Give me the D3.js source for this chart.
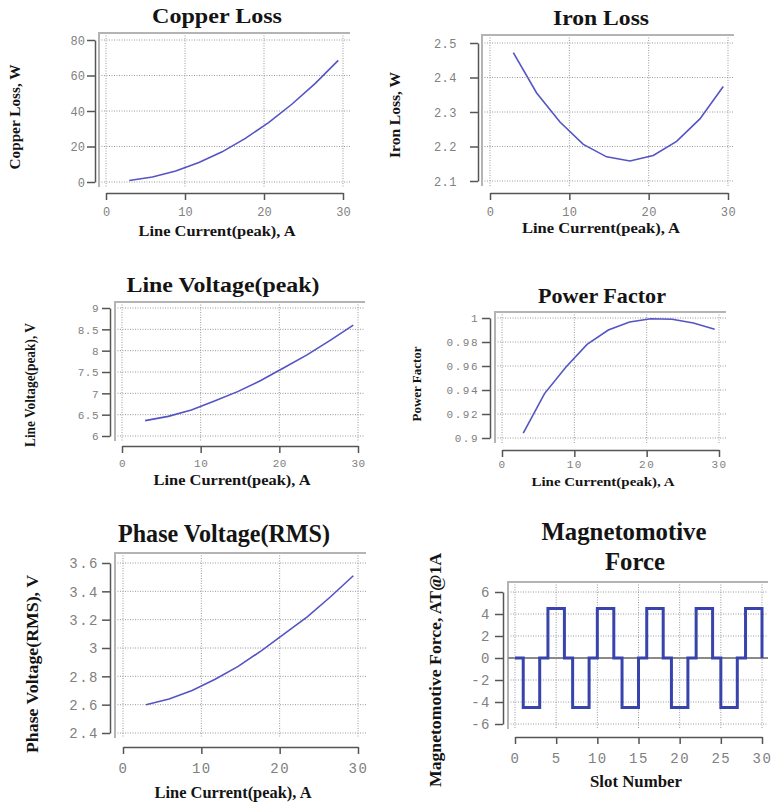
<!DOCTYPE html>
<html>
<head>
<meta charset="utf-8">
<script src="https://cdn.jsdelivr.net/npm/d3@7/dist/d3.min.js"></script>
<style>
  body { margin: 0; background: #fff; }
  svg { display: block; }
  .tick text { font-family: "Liberation Mono", "DejaVu Sans Mono", monospace; fill: #808080; }
  .domain, .tick line { stroke: #555; }
  .ttl { font-family: "Liberation Serif", "Times New Roman", serif; font-weight: bold; fill: #141414; }
</style>
</head>
<body>
<svg width="771" height="804"></svg>
<script>
// line current (peak), A
const current = [2.94, 5.88, 8.82, 11.76, 14.7, 17.64, 20.58, 23.52, 26.46, 29.4];

const copperLoss   = [0.8, 2.8, 6.2, 11.0, 17.0, 24.6, 33.5, 43.8, 55.4, 68.5];
const ironLoss     = [2.472, 2.355, 2.271, 2.206, 2.170, 2.158, 2.174, 2.215, 2.280, 2.374];
const lineVoltage  = [6.36, 6.46, 6.61, 6.82, 7.04, 7.3, 7.6, 7.9, 8.24, 8.6];
const powerFactor  = [0.904, 0.937, 0.959, 0.978, 0.990, 0.9967, 0.9994, 0.999, 0.9959, 0.9906];
const phaseVoltage = [2.6, 2.64, 2.7, 2.78, 2.87, 2.98, 3.1, 3.22, 3.36, 3.51];

const slotNumber = [0, 1, 2, 3, 4, 5, 6, 7, 8, 9, 10, 11, 12, 13, 14, 15, 16, 17, 18, 19, 20,
                    21, 22, 23, 24, 25, 26, 27, 28, 29, 30];
const mmf = [0, -4.5, -4.5, 0, 4.5, 4.5, 0, -4.5, -4.5, 0, 4.5, 4.5, 0, -4.5, -4.5, 0,
             4.5, 4.5, 0, -4.5, -4.5, 0, 4.5, 4.5, 0, -4.5, -4.5, 0, 4.5, 4.5, 0];

// tick values
const currentTicks = [0, 10, 20, 30];
const slotTicks = [0, 5, 10, 15, 20, 25, 30];
const copperTicks = [0, 20, 40, 60, 80];
const ironTicks = [2.1, 2.2, 2.3, 2.4, 2.5];
const lineVTicks = [6, 6.5, 7, 7.5, 8, 8.5, 9];
const pfTicks = [0.9, 0.92, 0.94, 0.96, 0.98, 1];
const phaseVTicks = [2.4, 2.6, 2.8, 3, 3.2, 3.4, 3.6];
const mmfTicks = [-6, -4, -2, 0, 2, 4, 6];

const svg = d3.select("svg");

function minorTicks(domain, step) {
    const out = [];
    const n = Math.round((domain[1] - domain[0]) / step);
    for (let i = 0; i <= n; i++) out.push(+(domain[0] + i * step).toFixed(6));
    return out;
}

function drawPanel(p) {
    const g = svg.append("g");
    const x = d3.scaleLinear().domain(p.xDomain).range(p.xRange);
    const y = d3.scaleLinear().domain(p.yDomain).range(p.yRange);
    const f = p.frame;

    // grid (dotted)
    g.append("g").selectAll("line").data(p.yTicks).enter().append("line")
        .attr("x1", f[0]).attr("x2", f[2])
        .attr("y1", d => y(d)).attr("y2", d => y(d))
        .attr("stroke", "#9a9a9a").attr("stroke-dasharray", "1,1.5");
    g.append("g").selectAll("line").data(p.xTicks).enter().append("line")
        .attr("y1", f[1]).attr("y2", f[3])
        .attr("x1", d => x(d)).attr("x2", d => x(d))
        .attr("stroke", "#9a9a9a").attr("stroke-dasharray", "1,1.5");

    // frame: top + left
    g.append("path")
        .attr("d", "M" + f[0] + "," + f[3] + "V" + f[1] + "H" + f[2])
        .attr("fill", "none").attr("stroke", "#b4b4b4").attr("stroke-width", 2);

    if (p.zeroLine) {
        g.append("line").attr("x1", f[0]).attr("x2", f[2])
            .attr("y1", y(0)).attr("y2", y(0))
            .attr("stroke", "#8a8a8a").attr("stroke-width", 2);
    }

    // y axis, detached to the left
    const ya = g.append("g").attr("transform", "translate(" + p.yAxisX + ",0)");
    ya.call(d3.axisLeft(y).tickValues(minorTicks(p.yDomain, p.yMinor)).tickSize(4).tickSizeOuter(0).tickFormat(""));
    ya.call(d3.axisLeft(y).tickValues(p.yTicks).tickSize(8).tickSizeOuter(0)
        .tickPadding(p.yPad).tickFormat(d => String(d)));
    ya.selectAll("path, line").attr("stroke-width", 1.5);
    ya.selectAll("text").style("font-size", p.tickSize + "px").attr("dy", "0.35em")
        .style("letter-spacing", (p.tickSpacing || 0) + "px");

    // x axis, detached below
    const xa = g.append("g").attr("transform", "translate(0," + p.xAxisY + ")");
    xa.call(d3.axisBottom(x).tickValues(minorTicks(p.xDomain, p.xMinor)).tickSize(3.5).tickSizeOuter(0).tickFormat(""));
    xa.call(d3.axisBottom(x).tickValues(p.xTicks).tickSize(7).tickSizeOuter(0)
        .tickPadding(p.xPad).tickFormat(d => String(d)));
    xa.selectAll("path, line").attr("stroke-width", 1.5);
    xa.selectAll("text").style("font-size", p.tickSize + "px")
        .style("letter-spacing", (p.tickSpacing || 0) + "px");

    // data line
    const line = d3.line()
        .x((d, i) => x(p.xs[i]))
        .y(d => y(d))
        .curve(p.step ? d3.curveStepAfter : d3.curveLinear);
    g.append("path").datum(p.ys)
        .attr("d", line)
        .attr("fill", "none")
        .attr("stroke", p.color)
        .attr("stroke-width", p.lineWidth)
        .attr("stroke-linejoin", "miter");

    // titles
    p.title.forEach(t => {
        g.append("text").attr("class", "ttl")
            .attr("x", t[1]).attr("y", t[2])
            .attr("text-anchor", "middle")
            .style("font-size", t[3] + "px")
            .attr("textLength", t[4]).attr("lengthAdjust", "spacingAndGlyphs")
            .text(t[0]);
    });
    g.append("text").attr("class", "ttl")
        .attr("x", p.xTitle[1]).attr("y", p.xTitle[2])
        .attr("text-anchor", "middle")
        .style("font-size", p.xTitle[3] + "px")
        .attr("textLength", p.xTitle[4]).attr("lengthAdjust", "spacingAndGlyphs")
        .text(p.xTitle[0]);
    g.append("text").attr("class", "ttl")
        .attr("transform", "translate(" + p.yTitle[1] + "," + p.yTitle[2] + ") rotate(-90)")
        .attr("text-anchor", "middle")
        .style("font-size", p.yTitle[3] + "px")
        .attr("textLength", p.yTitle[4]).attr("lengthAdjust", "spacingAndGlyphs")
        .text(p.yTitle[0]);
}

const curveColor = "#5454c4";

drawPanel({
    xs: current, ys: copperLoss, color: curveColor, lineWidth: 1.6,
    xDomain: [0, 30], xRange: [106, 343], yDomain: [0, 80], yRange: [182, 40],
    frame: [99, 33, 350, 187], xAxisY: 193, yAxisX: 95,
    xTicks: currentTicks, yTicks: copperTicks, xMinor: 2, yMinor: 5,
    tickSize: 12, yPad: 2, xPad: 7,
    title: [["Copper Loss", 217, 23, 22, 130]],
    xTitle: ["Line Current(peak), A", 217, 236, 14, 157],
    yTitle: ["Copper Loss, W", 20, 117, 14, 105]
});

drawPanel({
    xs: current, ys: ironLoss, color: curveColor, lineWidth: 1.6,
    xDomain: [0, 30], xRange: [490, 728], yDomain: [2.1, 2.5], yRange: [181, 43],
    frame: [482, 35, 734, 186], xAxisY: 193, yAxisX: 478,
    xTicks: currentTicks, yTicks: ironTicks, xMinor: 2, yMinor: 0.02,
    tickSize: 12, tickSpacing: 0.5, yPad: 13, xPad: 7,
    title: [["Iron Loss", 601, 25, 20, 96]],
    xTitle: ["Line Current(peak), A", 601, 233, 14, 158],
    yTitle: ["Iron Loss, W", 400, 115, 14, 86]
});

drawPanel({
    xs: current, ys: lineVoltage, color: curveColor, lineWidth: 1.6,
    xDomain: [0, 30], xRange: [122, 358], yDomain: [6, 9], yRange: [436, 308],
    frame: [115, 302, 365, 441], xAxisY: 446, yAxisX: 110,
    xTicks: currentTicks, yTicks: lineVTicks, xMinor: 2, yMinor: 0.1,
    tickSize: 11, tickSpacing: 0.5, yPad: 3, xPad: 6,
    title: [["Line Voltage(peak)", 223, 292, 20, 193]],
    xTitle: ["Line Current(peak), A", 232, 485, 14, 157],
    yTitle: ["Line Voltage(peak), V", 35, 385, 14, 124]
});

drawPanel({
    xs: current, ys: powerFactor, color: curveColor, lineWidth: 1.6,
    xDomain: [0, 30], xRange: [502, 719], yDomain: [0.9, 1], yRange: [438, 318],
    frame: [495, 312, 726, 443], xAxisY: 450, yAxisX: 490,
    xTicks: currentTicks, yTicks: pfTicks, xMinor: 2, yMinor: 0.005,
    tickSize: 11, tickSpacing: 1.5, yPad: 3, xPad: 3,
    title: [["Power Factor", 602, 303, 20, 128]],
    xTitle: ["Line Current(peak), A", 603, 486, 13, 143],
    yTitle: ["Power Factor", 421, 384, 13, 75]
});

drawPanel({
    xs: current, ys: phaseVoltage, color: curveColor, lineWidth: 1.6,
    xDomain: [0, 30], xRange: [123, 358], yDomain: [2.4, 3.6], yRange: [733, 563],
    frame: [115, 553, 366, 738], xAxisY: 747, yAxisX: 110,
    xTicks: currentTicks, yTicks: phaseVTicks, xMinor: 2, yMinor: 0.05,
    tickSize: 14, tickSpacing: 1.5, yPad: 3, xPad: 9,
    title: [["Phase Voltage(RMS)", 224, 542, 25, 212]],
    xTitle: ["Line Current(peak), A", 233, 798, 16, 157],
    yTitle: ["Phase Voltage(RMS), V", 38, 664, 17, 178]
});

drawPanel({
    xs: slotNumber, ys: mmf, color: "#3844ac", lineWidth: 3, step: true, zeroLine: true,
    xDomain: [0, 30], xRange: [515, 762], yDomain: [-6, 6], yRange: [724, 592],
    frame: [508, 582, 768, 729], xAxisY: 737, yAxisX: 503,
    xTicks: slotTicks, yTicks: mmfTicks, xMinor: 2.5, yMinor: 0.5,
    tickSize: 14, tickSpacing: 1.5, yPad: 4, xPad: 9,
    title: [["Magnetomotive", 624, 540, 25, 165], ["Force", 635, 570, 25, 60]],
    xTitle: ["Slot Number", 636, 787, 17, 92],
    yTitle: ["Magnetomotive Force, AT@1A", 441, 670, 17, 234]
});
</script>
</body>
</html>
